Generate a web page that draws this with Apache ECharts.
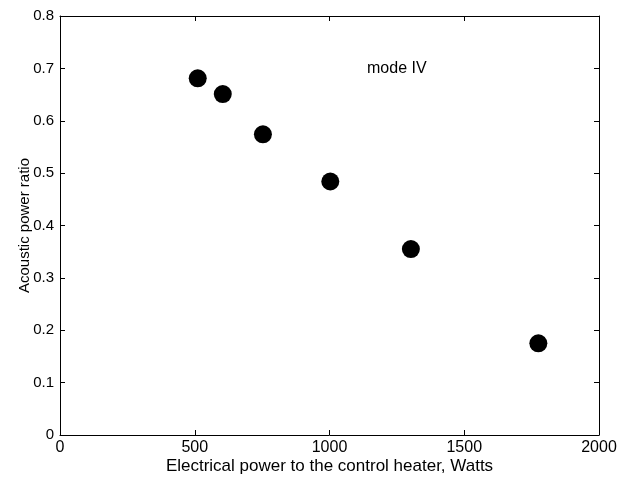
<!DOCTYPE html>
<html>
<head>
<meta charset="utf-8">
<script src="https://cdn.jsdelivr.net/npm/echarts@6/dist/echarts.min.js"></script>
<style>html,body{margin:0;padding:0;background:#fff;}#c{width:628px;height:477px;}</style>
</head>
<body>
<div id="c"></div>
<script>
const powerWatts = [511, 604, 753, 1003, 1302, 1775];
const acousticRatio = [0.681, 0.651, 0.574, 0.484, 0.355, 0.175];
const xTicks = [0, 500, 1000, 1500, 2000];
const yTicks = [0, 0.1, 0.2, 0.3, 0.4, 0.5, 0.6, 0.7, 0.8];
const annotation = 'mode IV';

const font = 'Liberation Sans, Arial, Helvetica, sans-serif';
const chart = echarts.init(document.getElementById('c'), null, {renderer: 'canvas'});
const lineStyle = {color: '#000', width: 1};
const tickStyle = {show: true, inside: true, length: 5, lineStyle: {color: '#000', width: 1}};
chart.setOption({
  animation: false,
  backgroundColor: '#fff',
  grid: {left: 60, top: 16, right: 29, bottom: 42, containLabel: false, outerBoundsMode: 'none'},
  xAxis: [{
    type: 'value', min: xTicks[0], max: xTicks[xTicks.length - 1], interval: 500,
    position: 'bottom',
    name: 'Electrical power to the control heater, Watts',
    nameLocation: 'middle', nameGap: 23, nameMoveOverlap: false,
    nameTextStyle: {color: '#000', fontSize: 17, fontFamily: font},
    axisLine: {show: true, onZero: false, lineStyle: lineStyle},
    axisTick: tickStyle,
    axisLabel: {color: '#000', fontSize: 16, fontFamily: font, margin: 5, formatter: v => String(v)},
    splitLine: {show: false}
  }, {
    type: 'value', min: xTicks[0], max: xTicks[xTicks.length - 1], interval: 500,
    position: 'top',
    axisLine: {show: true, onZero: false, lineStyle: lineStyle},
    axisTick: tickStyle,
    axisLabel: {show: false},
    splitLine: {show: false}
  }],
  yAxis: [{
    type: 'value', min: yTicks[0], max: yTicks[yTicks.length - 1], interval: 0.1,
    position: 'left',
    name: 'Acoustic power ratio',
    nameLocation: 'middle', nameGap: 28, nameMoveOverlap: false,
    nameTextStyle: {color: '#000', fontSize: 15, fontFamily: font},
    axisLine: {show: true, onZero: false, lineStyle: lineStyle},
    axisTick: tickStyle,
    axisLabel: {color: '#000', fontSize: 15, fontFamily: font, margin: 6},
    splitLine: {show: false}
  }, {
    type: 'value', min: yTicks[0], max: yTicks[yTicks.length - 1], interval: 0.1,
    position: 'right',
    axisLine: {show: true, onZero: false, lineStyle: lineStyle},
    axisTick: tickStyle,
    axisLabel: {show: false},
    splitLine: {show: false}
  }],
  series: [{
    type: 'scatter',
    xAxisIndex: 0, yAxisIndex: 0,
    data: powerWatts.map((x, i) => [x, acousticRatio[i]]),
    symbol: 'circle',
    symbolSize: 18,
    itemStyle: {color: '#000', opacity: 1}
  }],
  graphic: [{
    type: 'text', left: 367, top: 61,
    style: {text: annotation, fill: '#000', font: '16px ' + font}
  }]
});
</script>
</body>
</html>
